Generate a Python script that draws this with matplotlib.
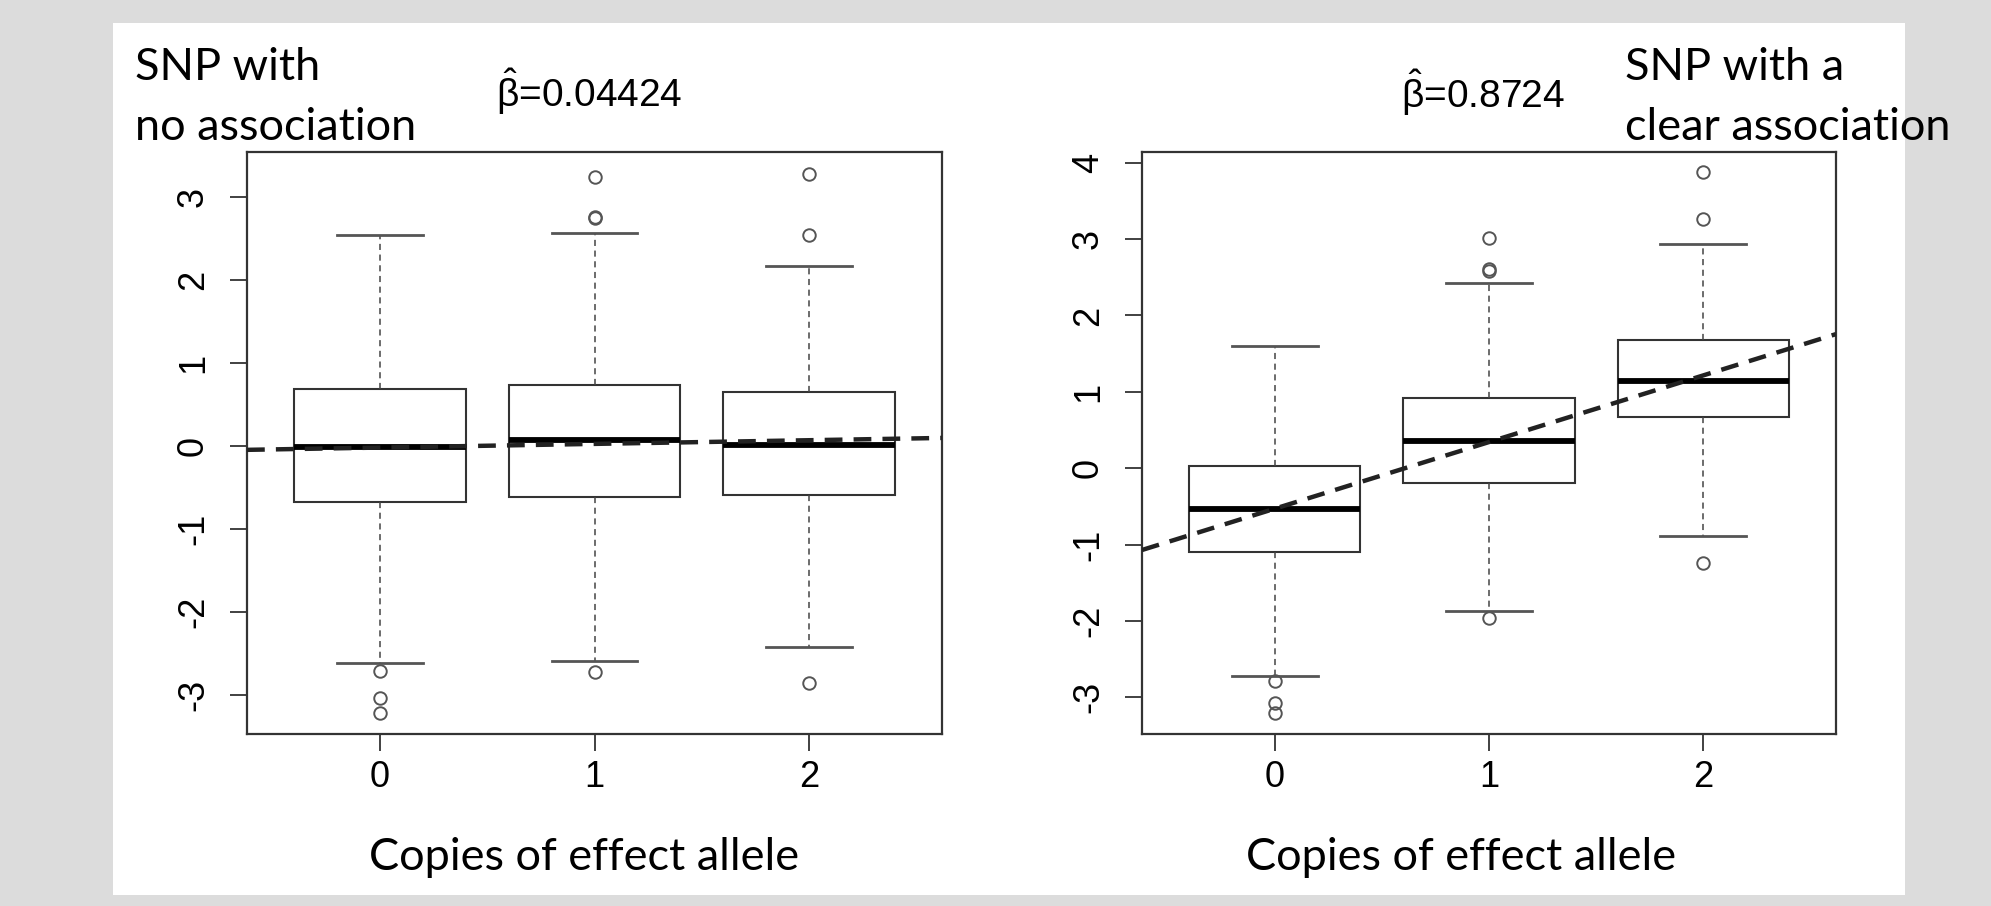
import matplotlib
matplotlib.use("Agg")
import matplotlib.pyplot as plt
from matplotlib.patches import Rectangle

# box statistics (genotype 0, 1, 2)
groups = [0, 1, 2]
group_labels = ["0", "1", "2"]

left_q1 = [-0.68, -0.61, -0.59]
left_med = [-0.01, 0.07, 0.01]
left_q3 = [0.68, 0.73, 0.65]
left_lo = [-2.62, -2.59, -2.42]
left_hi = [2.54, 2.56, 2.17]
left_fliers = [[-2.71, -3.04, -3.22], [3.24, 2.76, 2.74, -2.72], [3.28, 2.54, -2.85]]
left_beta = 0.04424
left_icpt = -0.02

right_q1 = [-1.10, -0.20, 0.67]
right_med = [-0.54, 0.35, 1.14]
right_q3 = [0.03, 0.92, 1.68]
right_lo = [-2.72, -1.87, -0.89]
right_hi = [1.60, 2.43, 2.94]
right_fliers = [[-2.78, -3.07, -3.20], [3.01, 2.61, 2.58, -1.96], [3.88, 3.26, -1.24]]
right_beta = 0.8724
right_icpt = -0.53

left_yticks = [-3, -2, -1, 0, 1, 2, 3]
right_yticks = [-3, -2, -1, 0, 1, 2, 3, 4]

plt.rcParams['axes.unicode_minus'] = False
plt.rcParams['mathtext.fontset'] = 'custom'
plt.rcParams['mathtext.rm'] = 'Liberation Sans'
plt.rcParams['mathtext.it'] = 'Liberation Sans'

W, H = 1991, 906
fig = plt.figure(figsize=(W / 100, H / 100), dpi=100)
fig.patch.set_facecolor('#dcdcdc')
fig.patches.append(Rectangle((113 / W, 1 - 895 / H), (1905 - 113) / W, (895 - 23) / H,
                             transform=fig.transFigure, facecolor='white',
                             edgecolor='none', zorder=-10))


def px_axes(x0, x1, ytop, ybot):
    return fig.add_axes([x0 / W, 1 - ybot / H, (x1 - x0) / W, (ybot - ytop) / H])


def draw_panel(ax, q1, med, q3, lo, hi, fliers, icpt, slope, yticks, ylim):
    stats = []
    for i in range(len(groups)):
        stats.append(dict(q1=q1[i], med=med[i], q3=q3[i], whislo=lo[i],
                          whishi=hi[i], fliers=fliers[i]))
    ax.bxp(stats, positions=groups, widths=0.8, patch_artist=True,
           boxprops=dict(facecolor='white', edgecolor='#333333', linewidth=1.5),
           medianprops=dict(color='black', linewidth=4.2, solid_capstyle='butt'),
           whiskerprops=dict(color='#444444', linewidth=1.1, linestyle=(0, (4, 3))),
           capprops=dict(color='#555555', linewidth=2),
           capwidths=0.4,
           flierprops=dict(marker='o', markerfacecolor='none', markeredgecolor='#555555',
                           markersize=9, markeredgewidth=1.4))
    ax.axline((0, icpt), slope=slope, color='#222222', linewidth=3.2,
              linestyle=(0, (4, 2.5)), zorder=5)
    ax.set_xlim(-0.62, 2.62)
    ax.set_ylim(*ylim)
    ax.set_xticks(groups)
    ax.set_xticklabels(group_labels, fontsize=26, family='Liberation Sans')
    ax.set_yticks(yticks)
    ax.set_yticklabels([str(t) for t in yticks], fontsize=26, family='Liberation Sans',
                       rotation=90, va='center')
    ax.tick_params(length=12, width=1.3, color='#333333', pad=7)
    ax.tick_params(axis='y', pad=14)
    for s in ax.spines.values():
        s.set_color('#333333')
        s.set_linewidth(1.6)
    ax.set_facecolor('white')


ax1 = px_axes(247, 942, 152, 734)
draw_panel(ax1, left_q1, left_med, left_q3, left_lo, left_hi, left_fliers,
           left_icpt, left_beta, left_yticks, (-3.47, 3.54))

ax2 = px_axes(1142, 1836, 152, 734)
draw_panel(ax2, right_q1, right_med, right_q3, right_lo, right_hi, right_fliers,
           right_icpt, right_beta, right_yticks, (-3.48, 4.14))

gill = 'Lato'


def ftext(x, y, s, **kw):
    fig.text(x / W, 1 - y / H, s, **kw)


ftext(135, 80, "SNP with", fontsize=32.5, family=gill, va='baseline')
ftext(135, 140, "no association", fontsize=32.5, family=gill, va='baseline')
ftext(1625, 80, "SNP with a", fontsize=32.5, family=gill, va='baseline')
ftext(1625, 140, "clear association", fontsize=32.5, family=gill, va='baseline')

ftext(496, 107, r'$\hat{\beta}$=0.04424', fontsize=28, family='Liberation Sans', va='baseline')
ftext(1401, 108, r'$\hat{\beta}$=0.8724', fontsize=28, family='Liberation Sans', va='baseline')

ftext(584, 870, "Copies of effect allele", fontsize=32.5, family=gill, va='baseline', ha='center')
ftext(1461, 870, "Copies of effect allele", fontsize=32.5, family=gill, va='baseline', ha='center')

fig.savefig('out.png', dpi=100, facecolor=fig.get_facecolor())
